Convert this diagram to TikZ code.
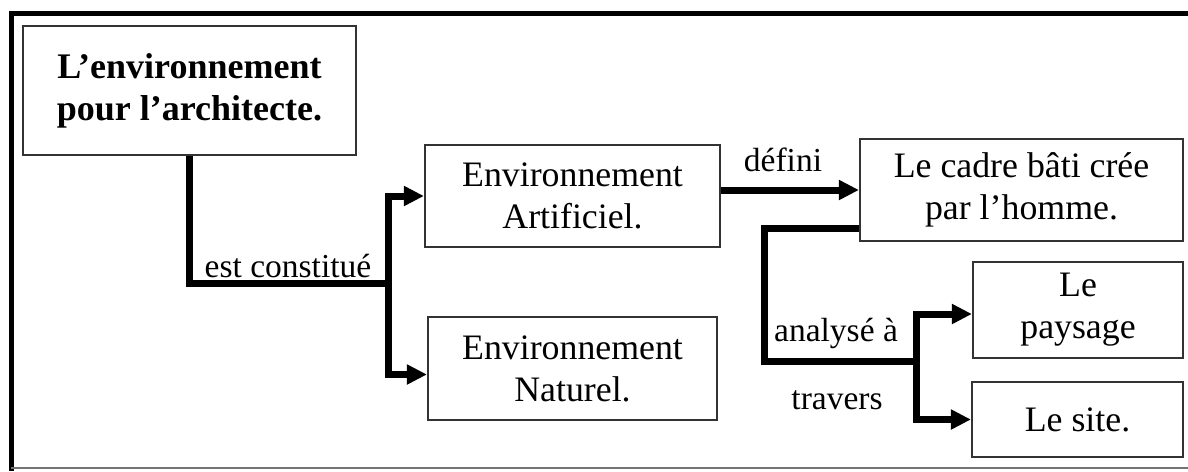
\documentclass[tikz,border=0pt]{standalone}
\usepackage{fontspec}
\setmainfont{Liberation Serif}
\usetikzlibrary{arrows.meta}
\begin{document}
\begin{tikzpicture}[x=1pt,y=-1pt,
  box/.style={draw=black!80,line width=2.2pt,rectangle,inner sep=0pt,align=center,
    font=\fontsize{35.8}{42}\selectfont},
  lbl/.style={inner sep=0pt,font=\fontsize{33.5}{38}\selectfont},
  conn/.style={line width=7pt,line join=miter,draw=black},
  arr/.style={conn,-{Triangle[length=20pt,width=19pt]}}]
\useasboundingbox (0,0) rectangle (1188,471);
% outer frame
\draw[line width=5pt,line cap=rect] (1190,13) -- (11,13) -- (11,468);
\draw[line width=2pt,black!55] (11,468) -- (1190,468);
% boxes
\node[box,minimum width=333pt,minimum height=129pt,font=\fontsize{36}{42}\selectfont\bfseries]
  (A) at (189.5,90.5) {L’environnement\\pour l’architecte.};
\node[box,minimum width=295pt,minimum height=102pt] (B) at (572.5,196) {Environnement\\Artificiel.};
\node[box,minimum width=289pt,minimum height=103pt] (C) at (572.5,368.5) {Environnement\\Naturel.};
\node[box,minimum width=323pt,minimum height=102pt] (D) at (1021.5,190) {Le cadre bâti crée\\par l’homme.};
\node[box,minimum width=210pt,minimum height=96pt] (E) at (1078,310) {Le\\paysage};
\node[box,minimum width=211pt,minimum height=75pt] (F) at (1077.5,419.5) {Le site.};
% junctions
\coordinate (j1) at (388,283);
\coordinate (j2) at (764,361);
\coordinate (j3) at (916,361);
% connectors
\draw[conn] (A.south) |- (j1);
\draw[arr] (j1) |- (B.west);
\draw[arr] (j1) |- ([yshift=-6pt]C.west);
\draw[arr] (B.east |- D.west) -- (D.west);
\draw[conn] ([yshift=14pt]D.south west) -| (j2) -- (j3);
\draw[arr] (j3) |- ([yshift=-4pt]E.west);
\draw[arr] (j3) |- (F.west);
% labels
\node[lbl] (l1) at (288,266) {est constitué};
\node[lbl] (l2) at (783,160) {défini};
\node[lbl] (l3) at (836,333) {analysé à};
\node[lbl] (l4) at (837,400) {travers};
\end{tikzpicture}
\end{document}
